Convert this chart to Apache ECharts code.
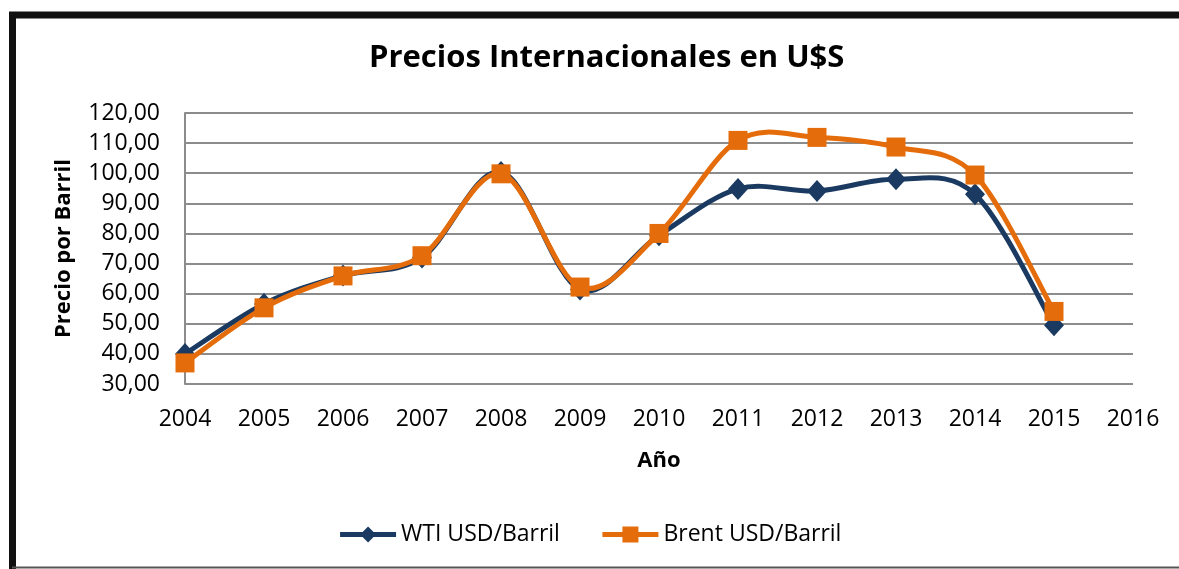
<!DOCTYPE html>
<html>
<head>
<meta charset="utf-8">
<script src="https://cdn.jsdelivr.net/npm/echarts@6/dist/echarts.min.js"></script>
<style>
html,body{margin:0;padding:0;background:#fff;}
#c{width:1179px;height:569px;}
</style>
</head>
<body>
<div id="c"></div>
<script>
const years = [2004, 2005, 2006, 2007, 2008, 2009, 2010, 2011, 2012, 2013, 2014, 2015];
const wti = [40.0, 56.6, 66.0, 72.0, 100.4, 61.4, 79.4, 94.8, 94.1, 98.0, 93.0, 49.5];
const brent = [37.0, 55.3, 65.9, 72.6, 99.8, 62.2, 80.0, 110.9, 111.9, 108.7, 99.4, 54.1];
const seriesNames = ['WTI USD/Barril', 'Brent USD/Barril'];
const titleText = 'Precios Internacionales en U$S';
const xName = 'Año';
const yName = 'Precio por Barril';

const FONT = 'Open Sans';
const navy = '#1B3A61';
const orange = '#E46C0A';

// Smoothed curve (Catmull-Rom style) drawn through the library's coordinate system
function makeCurve(vals, color, z) {
  const data = years.map((y, i) => [y, vals[i]]);
  return {
    type: 'custom', name: 'curve-' + color, coordinateSystem: 'cartesian2d',
    data: data, encode: {x: 0, y: 1}, z: z, silent: true,
    renderItem: function (params, api) {
      if (params.dataIndex !== 0) return null;
      const pts = data.map(d => api.coord(d));
      const m = pts.length;
      let d = 'M' + pts[0][0] + ',' + pts[0][1];
      for (let i = 0; i < m - 1; i++) {
        const p0 = pts[Math.max(i - 1, 0)], p1 = pts[i], p2 = pts[i + 1], p3 = pts[Math.min(i + 2, m - 1)];
        const c1x = p1[0] + (p2[0] - p0[0]) / 6, c1y = p1[1] + (p2[1] - p0[1]) / 6;
        const c2x = p2[0] - (p3[0] - p1[0]) / 6, c2y = p2[1] - (p3[1] - p1[1]) / 6;
        d += ' C' + c1x + ',' + c1y + ' ' + c2x + ',' + c2y + ' ' + p2[0] + ',' + p2[1];
      }
      return {
        type: 'path', shape: {pathData: d},
        style: {fill: 'none', stroke: color, lineWidth: 5, lineJoin: 'round', lineCap: 'round'}
      };
    }
  };
}

const chart = echarts.init(document.getElementById('c'));
chart.setOption({
  animation: false,
  backgroundColor: '#fff',
  textStyle: {fontFamily: FONT, color: '#000'},
  title: {
    text: titleText, left: 364, top: 38,
    textStyle: {fontFamily: FONT, fontWeight: 'bold', fontSize: 31, color: '#000'}
  },
  graphic: [
    {type: 'rect', shape: {x: 12.5, y: 15, width: 1250, height: 620},
     style: {fill: 'none', stroke: '#111', lineWidth: 7}, z: 100},
    {type: 'line', shape: {x1: 12, y1: 567.5, x2: 1179, y2: 567.5},
     style: {stroke: '#555', lineWidth: 2}, z: 101}
  ],
  legend: {
    top: 518, left: 'center', itemWidth: 56, itemHeight: 20, itemGap: 40,
    textStyle: {fontFamily: FONT, fontSize: 23, color: '#000'},
    lineStyle: {width: 5, opacity: 1},
    data: seriesNames
  },
  grid: {left: 185, right: 46, top: 113, bottom: 185},
  xAxis: {
    type: 'value', min: 2004, max: 2016, interval: 1,
    name: xName, nameLocation: 'middle', nameGap: 66,
    nameTextStyle: {fontFamily: FONT, fontWeight: 'bold', fontSize: 22, color: '#000'},
    axisLine: {show: false}, axisTick: {show: false},
    splitLine: {show: false},
    axisLabel: {fontFamily: FONT, fontSize: 23, color: '#000', margin: 24, formatter: v => String(v)}
  },
  yAxis: {
    type: 'value', min: 30, max: 120, interval: 10,
    name: yName, nameLocation: 'middle', nameGap: 110, nameRotate: 90,
    nameTextStyle: {fontFamily: FONT, fontWeight: 'bold', fontSize: 22, color: '#000'},
    axisLine: {show: true, lineStyle: {color: '#8c8c8c', width: 2}},
    axisTick: {show: false},
    splitLine: {lineStyle: {color: '#8c8c8c', width: 2}},
    axisLabel: {fontFamily: FONT, fontSize: 23, color: '#000', margin: 25,
      formatter: v => v.toFixed(2).replace('.', ',')}
  },
  series: [
    makeCurve(wti, navy, 1),
    {
      name: seriesNames[0], type: 'line',
      data: years.map((y, i) => [y, wti[i]]),
      symbol: 'diamond', symbolSize: [20, 22],
      lineStyle: {color: navy, width: 5, opacity: 0},
      itemStyle: {color: navy}, z: 2
    },
    makeCurve(brent, orange, 3),
    {
      name: seriesNames[1], type: 'line',
      data: years.map((y, i) => [y, brent[i]]),
      symbol: 'rect', symbolSize: 19,
      lineStyle: {color: orange, width: 5, opacity: 0},
      itemStyle: {color: orange}, z: 4
    }
  ]
});
</script>
</body>
</html>
